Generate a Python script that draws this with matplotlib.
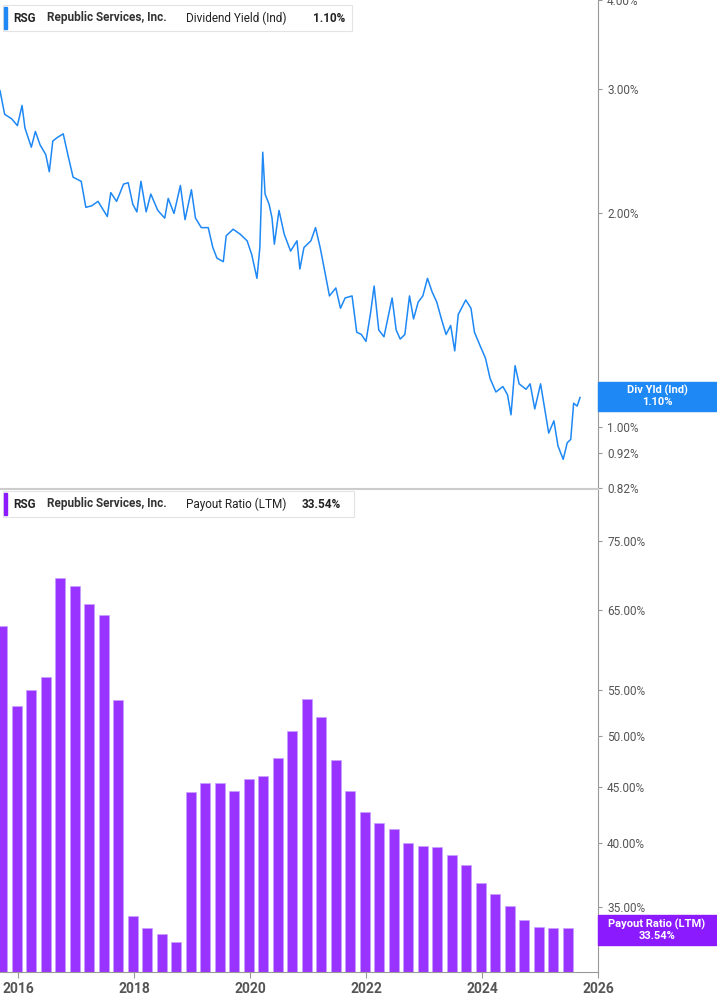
import matplotlib
matplotlib.use("Agg")
import matplotlib.pyplot as plt
from matplotlib.patches import Rectangle
import numpy as np

plt.rcParams["font.family"] = "Roboto"

# Dividend yield (%) — decimal year, value
dy_years = [2015.69,2015.77,2015.89,2015.99,2016.07,2016.12,2016.23,2016.30,2016.38,2016.48,2016.54,2016.60,2016.68,2016.78,2016.86,2016.95,
            2017.09,2017.17,2017.27,2017.38,2017.54,2017.60,2017.70,2017.82,2017.90,2017.98,2018.05,2018.12,2018.21,2018.29,2018.41,2018.53,
            2018.59,2018.69,2018.80,2018.88,2018.99,2019.06,2019.16,2019.28,2019.36,2019.43,2019.54,2019.59,2019.71,2019.83,2019.95,2020.03,
            2020.12,2020.17,2020.22,2020.26,2020.33,2020.38,2020.42,2020.50,2020.59,2020.70,2020.81,2020.86,2020.93,2021.05,2021.13,2021.21,
            2021.30,2021.37,2021.48,2021.56,2021.64,2021.76,2021.84,2021.92,2022.00,2022.08,2022.14,2022.22,2022.31,2022.39,2022.45,2022.52,
            2022.59,2022.67,2022.75,2022.82,2022.90,2022.98,2023.06,2023.14,2023.22,2023.30,2023.38,2023.46,2023.53,2023.59,2023.72,2023.81,
            2023.87,2023.97,2024.06,2024.14,2024.24,2024.36,2024.44,2024.50,2024.57,2024.64,2024.76,2024.83,2024.91,2025.01,2025.09,2025.15,
            2025.24,2025.31,2025.40,2025.47,2025.53,2025.58,2025.64,2025.69]
dy_vals = [2.98,2.76,2.72,2.66,2.84,2.64,2.48,2.61,2.50,2.42,2.29,2.53,2.56,2.59,2.42,2.25,
           2.22,2.04,2.05,2.08,1.98,2.14,2.08,2.20,2.21,2.06,2.01,2.22,2.01,2.13,2.02,1.97,
           2.10,2.00,2.19,1.96,2.16,1.97,1.91,1.91,1.79,1.73,1.71,1.86,1.90,1.87,1.83,1.75,
           1.62,1.79,2.44,2.13,2.06,1.97,1.81,2.02,1.87,1.77,1.83,1.67,1.79,1.83,1.91,1.79,
           1.64,1.53,1.57,1.47,1.52,1.53,1.36,1.35,1.32,1.45,1.58,1.37,1.34,1.44,1.52,1.37,
           1.33,1.35,1.53,1.42,1.50,1.53,1.62,1.55,1.50,1.42,1.35,1.39,1.28,1.44,1.51,1.47,
           1.36,1.30,1.25,1.17,1.12,1.14,1.11,1.04,1.22,1.15,1.13,1.15,1.06,1.15,1.05,0.98,
           1.02,0.94,0.90,0.95,0.96,1.08,1.07,1.10]

# Payout ratio (LTM, %) — quarterly
pr_years = [2015.75 + 0.25 * i for i in range(40)]
pr_vals = [62.8,53.2,55.0,56.5,69.5,68.3,65.8,64.3,53.9,34.4,33.5,33.1,32.6,44.5,45.3,45.3,44.6,45.7,46.0,47.8,
           50.5,54.0,52.0,47.6,44.6,42.7,41.7,41.2,40.0,39.8,39.7,39.0,38.2,36.8,36.0,35.1,34.1,33.6,33.5,33.54]

dy_ticks = [0.82, 0.92, 1.00, 2.00, 3.00, 4.00]
pr_ticks = [35, 40, 45, 50, 55, 65, 75]
x_ticks = [2016, 2018, 2020, 2022, 2024, 2026]

W, H = 717, 1005
fig = plt.figure(figsize=(W/100, H/100), dpi=100)
xmin, xmax = 2015.69, 2026.0
grey = "#999999"
tcol = "#555555"

def style(ax):
    for s in ["top", "left", "bottom"]:
        ax.spines[s].set_visible(False)
    ax.spines["right"].set_color(grey)
    ax.yaxis.tick_right()
    ax.tick_params(axis="y", which="both", length=3, color=grey, labelcolor=tcol, labelsize=8.5)
    ax.minorticks_off()
    ax.set_xlim(xmin, xmax)

ax1 = fig.add_axes([0, 1-488/H, 598/W, 488/H])
ax1.plot(dy_years, dy_vals, color="#1e88f5", lw=1.1)
ax1.set_yscale("log")
ax1.set_ylim(0.82, 4.0)
style(ax1)
ax1.set_yticks(dy_ticks)
ax1.set_yticklabels([f"{v:.2f}%" for v in dy_ticks])
ax1.minorticks_off()
ax1.set_xticks([])

ax2 = fig.add_axes([0, 1-972/H, 598/W, 482/H])
ymin2 = 30.6
ax2.bar([y - 0.02 for y in pr_years], [v - ymin2 for v in pr_vals], bottom=ymin2, width=0.17,
        color="#9933ff", edgecolor="#c9a0ff", linewidth=0.5)
ax2.set_yscale("log")
ax2.set_ylim(ymin2, 83.4)
style(ax2)
ax2.spines["bottom"].set_visible(True)
ax2.spines["bottom"].set_color(grey)
ax2.set_yticks(pr_ticks)
ax2.set_yticklabels([f"{v:.2f}%" for v in pr_ticks])
ax2.minorticks_off()
ax2.set_xticks(x_ticks)
ax2.set_xticklabels([str(x) for x in x_ticks])
ax2.tick_params(axis="x", length=4, color=grey, labelcolor=tcol, labelsize=10)
for lbl in ax2.get_xticklabels():
    lbl.set_fontweight("bold")

# separator line between panels
fig.add_artist(plt.Line2D([0, 598/W], [1-489/H, 1-489/H], transform=fig.transFigure, color="#cccccc", lw=1.5))

def fy(p):
    return 1 - p/H

# right value boxes
fig.add_artist(Rectangle((598/W, fy(411)), 119/W, 29/H, transform=fig.transFigure, color="#1e88f5"))
fig.text(657/W, fy(396), "Div Yld (Ind)\n1.10%", color="white", fontsize=8, fontweight="bold",
         ha="center", va="center", linespacing=1.1)
fig.add_artist(Rectangle((598/W, fy(945)), 119/W, 30/H, transform=fig.transFigure, color="#8c1aff"))
fig.text(657/W, fy(930), "Payout Ratio (LTM)\n33.54%", color="white", fontsize=8, fontweight="bold",
         ha="center", va="center", linespacing=1.1)

# legend boxes
def legend(ytop, color, metric, val, wbox):
    fig.add_artist(Rectangle((3/W, fy(ytop+26)), wbox/W, 26/H, transform=fig.transFigure,
                             facecolor="white", edgecolor="#e3e3e3", lw=0.8))
    fig.add_artist(Rectangle((4/W, fy(ytop+24)), 3/W, 22/H, transform=fig.transFigure, color=color))
    yc = fy(ytop+13)
    fig.text(13/W, yc, "RSG", fontsize=8.5, fontweight="bold", color="#222222", va="center")
    fig.text(47/W, yc, "Republic Services, Inc.", fontsize=8.5, fontweight="bold", color="#333333", va="center")
    fig.text(186/W, yc, metric, fontsize=8.5, color="#222222", va="center")
    fig.text((186+len(metric)*5.85+10)/W, yc, val, fontsize=8.5, fontweight="bold", color="#222222", va="center")

legend(5, "#1e88f5", "Dividend Yield (Ind)", "1.10%", 349)
legend(491, "#8c1aff", "Payout Ratio (LTM)", "33.54%", 351)

fig.savefig("out.png", dpi=100)
